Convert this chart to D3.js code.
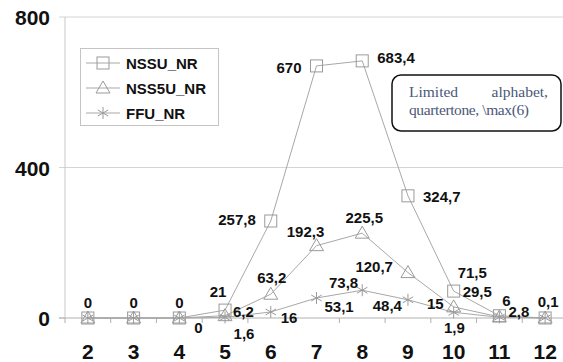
<!DOCTYPE html>
<html><head><meta charset="utf-8">
<script src="https://cdn.jsdelivr.net/npm/d3@7"></script>
<style>body{margin:0;background:#fff}svg{display:block}</style>
</head><body>
<script>
const categories = [2,3,4,5,6,7,8,9,10,11,12];
const seriesNames = ["NSSU_NR","NSS5U_NR","FFU_NR"];
const nssu  = [0,0,0,21,257.8,670,683.4,324.7,71.5,6,0.1];
const nss5u = [0,0,0,6.2,63.2,192.3,225.5,120.7,29.5,2.8,0];
const ffu   = [0,0,0,1.6,16,53.1,73.8,48.4,15,1.9,0];
const yTicks = [0,400,800];
const noteLines = ["Limited alphabet,","quartertone, \\max(6)"];

// label placement (styling, not data): [dx, dy, anchor] per point, null = no label
const labelPos = [
  [[0,-10,"middle"],[0,-10,"middle"],[0,-10,"middle"],[-7,-13,"middle"],[-15,4,"end"],[-15,7,"end"],[15,2,"start"],[15,6,"start"],[4,-13,"start"],[7,-10,"middle"],[3,-11,"middle"]],
  [null,null,[19,15,"middle"],[8,1,"start"],[1,-11,"middle"],[-11,-9,"middle"],[2,-10,"middle"],[-15,-1,"end"],[9,-10,"start"],[9,0,"start"],null],
  [null,null,null,[19,22,"middle"],[10,11,"start"],[8,14,"start"],[-4,-2,"end"],[-6,11,"end"],[-10,-3,"end"],[-45,16,"middle"],null]
];

const W=563,H=362;
const svg=d3.select("body").append("svg").attr("width",W).attr("height",H);
const x=d3.scalePoint().domain(categories).range([65,568]).padding(0.5);
const y=d3.scaleLinear().domain([0,800]).range([318,17]);
const step=x.step();

// gridlines
svg.append("g").selectAll("line").data(yTicks.filter(d=>d>0)).join("line")
  .attr("x1",59).attr("x2",W).attr("y1",d=>y(d)).attr("y2",d=>y(d))
  .attr("stroke","#d4d4d4").attr("stroke-width",1);
// y axis line
svg.append("line").attr("x1",65).attr("x2",65).attr("y1",y(800)).attr("y2",y(0)).attr("stroke","#c8c8c8");
svg.append("line").attr("x1",59).attr("x2",65).attr("y1",y(0)).attr("y2",y(0)).attr("stroke","#c8c8c8");
// x axis
svg.append("line").attr("x1",59).attr("x2",W).attr("y1",y(0)).attr("y2",y(0)).attr("stroke","#b0b0b0");
svg.append("g").selectAll("line").data(categories).join("line")
  .attr("x1",d=>x(d)-step/2).attr("x2",d=>x(d)-step/2).attr("y1",y(0)).attr("y2",y(0)+5)
  .attr("stroke","#b0b0b0");

// y tick labels
svg.append("g").selectAll("text").data(yTicks).join("text")
  .attr("x",50).attr("y",d=>y(d)+8).attr("text-anchor","end")
  .attr("font-family","Liberation Sans, Arial, sans-serif").attr("font-weight","bold").attr("font-size",21)
  .attr("fill","#111").text(d=>d);
// x tick labels
svg.append("g").selectAll("text").data(categories).join("text")
  .attr("x",d=>x(d)).attr("y",359).attr("text-anchor","middle")
  .attr("font-family","Liberation Sans, Arial, sans-serif").attr("font-weight","bold").attr("font-size",21)
  .attr("fill","#111").text(d=>d);

const allSeries=[nssu,nss5u,ffu];
const line=d3.line().x((d,i)=>x(categories[i])).y(d=>y(d));
allSeries.forEach(s=>{
  svg.append("path").datum(s).attr("d",line).attr("fill","none").attr("stroke","#a8a8a8").attr("stroke-width",1);
});

function marker(g,type,cx,cy){
  const st="#9a9a9a";
  if(type===0){
    g.append("rect").attr("x",cx-6).attr("y",cy-6).attr("width",12).attr("height",12)
      .attr("fill","none").attr("stroke",st);
  } else if(type===1){
    g.append("path").attr("d",`M${cx},${cy-7}L${cx+7},${cy+5}L${cx-7},${cy+5}Z`)
      .attr("fill","none").attr("stroke",st);
  } else {
    const r=6;
    [[0,-r,0,r],[-r*0.87,-r*0.5,r*0.87,r*0.5],[-r*0.87,r*0.5,r*0.87,-r*0.5]].forEach(a=>{
      g.append("line").attr("x1",cx+a[0]).attr("y1",cy+a[1]).attr("x2",cx+a[2]).attr("y2",cy+a[3]).attr("stroke",st);
    });
  }
}
allSeries.forEach((s,k)=>{
  const g=svg.append("g");
  s.forEach((v,i)=>marker(g,k,x(categories[i]),y(v)));
});

// data labels
const fmt=v=>String(v).replace(".",",");
allSeries.forEach((s,k)=>{
  s.forEach((v,i)=>{
    const p=labelPos[k][i]; if(!p) return;
    svg.append("text").attr("x",x(categories[i])+p[0]).attr("y",y(v)+p[1]).attr("text-anchor",p[2])
      .attr("font-family","Liberation Sans, Arial, sans-serif").attr("font-weight","bold").attr("font-size",15)
      .attr("fill","#111").text(fmt(v));
  });
});

// legend
const lg=svg.append("g");
lg.append("rect").attr("x",80.5).attr("y",48.5).attr("width",138).attr("height",77).attr("fill","#fff").attr("stroke","#c4c4c4");
seriesNames.forEach((n,k)=>{
  const cy=63+k*25;
  lg.append("line").attr("x1",86).attr("x2",120).attr("y1",cy).attr("y2",cy).attr("stroke","#a8a8a8");
  marker(lg,k,103,cy);
  lg.append("text").attr("x",126).attr("y",cy+5.5).attr("font-family","Liberation Sans, Arial, sans-serif")
    .attr("font-weight","bold").attr("font-size",15).attr("fill","#111").text(n);
});

// annotation box
const ag=svg.append("g");
ag.append("rect").attr("x",392).attr("y",75).attr("width",169).attr("height",56).attr("rx",9)
  .attr("fill","#fff").attr("stroke","#111").attr("stroke-width",1.5);
const w1=noteLines[0].split(" ");
const tf=sel=>sel.attr("font-family","Liberation Serif, Times New Roman, serif").attr("font-size",15.5).attr("fill","#4a5878");
tf(ag.append("text").attr("x",409).attr("y",97).text(w1[0]));
tf(ag.append("text").attr("x",548).attr("y",97).attr("text-anchor","end").text(w1[1]));
tf(ag.append("text").attr("x",409).attr("y",115).attr("textLength",120).attr("lengthAdjust","spacing").text(noteLines[1]));
</script>
</body></html>
